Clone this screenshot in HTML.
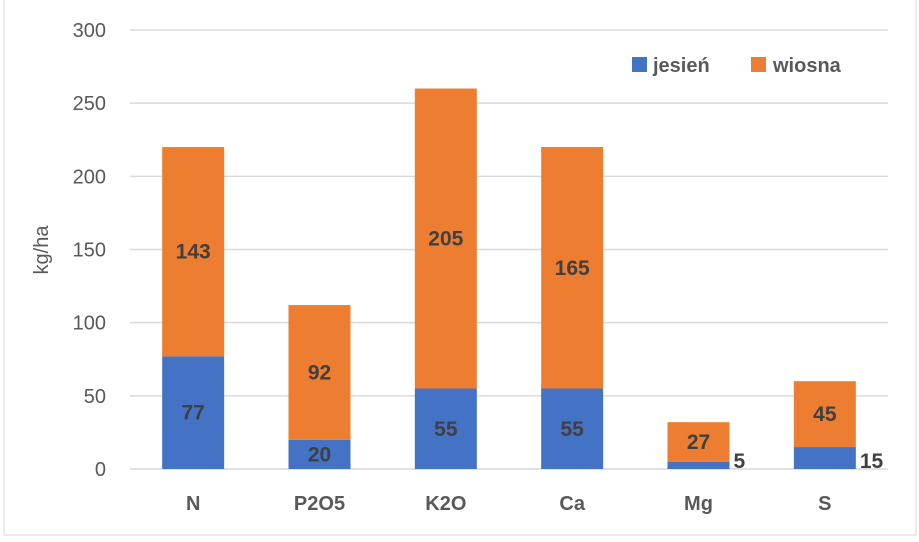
<!DOCTYPE html>
<html><head><meta charset="utf-8"><style>
body{margin:0;background:#fff;}
svg text{font-family:"Liberation Sans",sans-serif;}
</style></head><body>
<svg id="chart" width="919" height="537">
<rect x="4" y="-2" width="912" height="537" fill="#fff" stroke="#d9d9d9"/>
<g id="grid"></g><g id="bars"></g><g id="labels"></g>
<text x="0" y="0" transform="translate(48,250) rotate(-90)" text-anchor="middle" font-size="20" fill="#595959">kg/ha</text>
<g>
<rect x="632" y="57" width="15" height="15" fill="#4472c4"/>
<text x="653" y="72" font-size="20" font-weight="bold" fill="#595959">jesień</text>
<rect x="751" y="57" width="15" height="15" fill="#ed7d31"/>
<text x="773" y="72" font-size="20" font-weight="bold" fill="#595959">wiosna</text>
</g>
</svg>
<script>
const categories=["N","P2O5","K2O","Ca","Mg","S"];
const jesien=[77,20,55,55,5,15];
const wiosna=[143,92,205,165,27,45];
const yTicks=[0,50,100,150,200,250,300];
const NS="http://www.w3.org/2000/svg";
const x0=130,x1=888,y0=469,yTop=30,yMax=300,bw=62;
const band=(x1-x0)/categories.length;
const y=v=>y0-(v/yMax)*(y0-yTop);
const cx=i=>x0+band*(i+0.5);
function mk(tag,attrs,parent,text){const e=document.createElementNS(NS,tag);for(const k in attrs)e.setAttribute(k,attrs[k]);if(text!==undefined)e.textContent=text;parent.appendChild(e);return e;}
const grid=document.getElementById('grid'),bars=document.getElementById('bars'),labels=document.getElementById('labels');
yTicks.forEach(t=>{
  if(t>0){const l=mk('line',{x1:x0,x2:x1,y1:y(t),y2:y(t),stroke:'#d9d9d9','stroke-width':1.5},grid);
  
  }
  const tx=mk('text',{x:106,y:y(t)+7,'text-anchor':'end','font-size':20,fill:'#595959'},grid,String(t));
  
  
});
categories.forEach((c,i)=>{
  const a=jesien[i],b=wiosna[i],xc=cx(i);
  const r1=mk('rect',{x:xc-bw/2,y:y(a),width:bw,height:y0-y(a),fill:'#4472c4'},bars);
  
  
  const r2=mk('rect',{x:xc-bw/2,y:y(a+b),width:bw,height:y(a)-y(a+b),fill:'#ed7d31'},bars);
  
  
  let lx=xc,ly=(y(a)+y0)/2+7,anchor='middle';
  if(y0-y(a)<22){lx=xc+bw/2+4;ly=y0-1;anchor='start';}
  const t1=mk('text',{x:lx,y:ly,'text-anchor':anchor,'font-size':21,'font-weight':'bold',fill:'#404040'},labels,String(a));
  
  
  const t2=mk('text',{x:xc,y:(y(a)+y(a+b))/2+7,'text-anchor':'middle','font-size':21,'font-weight':'bold',fill:'#404040'},labels,String(b));
  
  
  const t3=mk('text',{x:xc,y:510,'text-anchor':'middle','font-size':20,'font-weight':'bold',fill:'#595959'},labels,c);
  
  
});
const ax=mk('line',{x1:x0,x2:x1,y1:y0,y2:y0,stroke:'#d9d9d9','stroke-width':1.5},grid);


</script>
</body></html>
